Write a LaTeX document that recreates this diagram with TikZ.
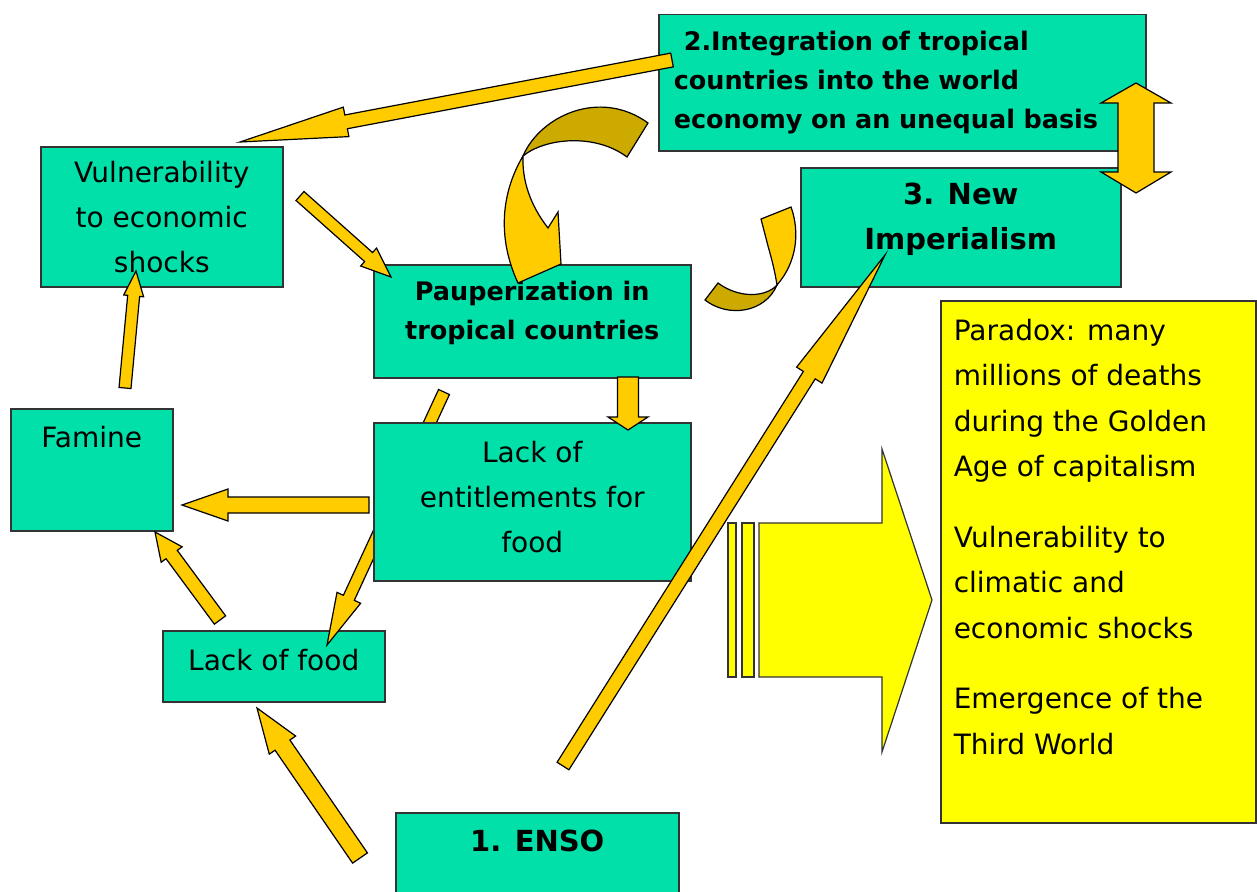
\documentclass[tikz,border=0pt]{standalone}
\usepackage{fontspec}
\setmainfont{DejaVu Sans}
\usetikzlibrary{calc}
\definecolor{boxgreen}{RGB}{0,224,168}
\definecolor{arrowgold}{RGB}{255,204,0}
\definecolor{arrowdark}{RGB}{204,170,0}
\definecolor{noteyellow}{RGB}{255,255,0}
\tikzset{
  greenbox/.style={draw=black!80, line width=1.5pt, fill=boxgreen, anchor=north west,
    align=center, inner sep=0pt, font=\fontsize{28}{45}\selectfont},
  boldbox/.style={greenbox, font=\bfseries\fontsize{25.5}{39}\selectfont},
  titlebox/.style={greenbox, font=\bfseries\fontsize{29}{45}\selectfont},
  arrowfill/.style={draw=black, line width=1.2pt, fill=arrowgold, line join=miter},
  darkfill/.style={arrowfill, fill=arrowdark},
  notefill/.style={draw=black!80, line width=1.2pt, fill=noteyellow},
}
% block arrow: [style]{from}{to}{shaft half width}{head half width}{head length}
\newcommand{\blockarrow}[6][arrowfill]{%
  \coordinate (hb) at ($(#3)!#6pt!(#2)$);
  \draw[#1] ($(#2)!#4pt!90:(#3)$) -- ($(hb)!#4pt!90:(#3)$) -- ($(hb)!#5pt!90:(#3)$) -- (#3)
    -- ($(hb)!#5pt!-90:(#3)$) -- ($(hb)!#4pt!-90:(#3)$) -- ($(#2)!#4pt!-90:(#3)$) -- cycle;
}
\begin{document}
\begin{tikzpicture}[x=1pt, y=-1pt]
  \useasboundingbox (0,0) rectangle (1257,891);
  \clip (0,0) rectangle (1257,891);
  \fill[white] (0,0) rectangle (1257,891);
  % Boxes.
  \node[boldbox, align=left, text width=457pt, inner xsep=15pt, minimum height=136pt] (integ) at (658,14)
    {\hspace*{10pt}2.Integration of tropical\\countries into the world\\economy on an unequal basis};
  \node[titlebox, minimum width=320pt, minimum height=119pt, text height=66pt, text depth=21pt] (newimp) at (800,167) {3. New\\Imperialism};
  \node[greenbox, minimum width=242pt, minimum height=140pt] (vuln) at (40,146) {Vulnerability\\to economic\\shocks};
  \node[boldbox, minimum width=317pt, minimum height=113pt, text height=58pt, text depth=22pt] (paup) at (373,264) {Pauperization in\\tropical countries};
  \node[greenbox, minimum width=162pt, text height=30pt, text depth=74pt, inner ysep=9pt] (famine) at (10,408) {Famine};
  \node[greenbox, minimum width=222pt, minimum height=71pt, text height=21pt, text depth=12pt] (lackfood) at (162,630) {Lack of food};
  \node[titlebox, minimum width=283pt, text height=30pt, text depth=60pt, inner ysep=9pt] (enso) at (395,812) {1. ENSO};
  \node[notefill, line width=1.5pt, anchor=north west, inner xsep=13pt, inner ysep=14pt] (paradox) at (940,300)
    {\parbox[c][494pt][t]{289pt}{\fontsize{28}{45.5}\selectfont\raggedright\vspace*{4pt}%
      Paradox: many\\millions of deaths\\during the Golden\\Age of capitalism\\[25pt]%
      Vulnerability to\\climatic and\\economic shocks\\[25pt]%
      Emergence of the\\Third World}};
  % Arrow ends.
  \coordinate (integ-out) at (672,60);     \coordinate (vuln-in) at (240,142);
  \coordinate (vuln-out) at (300,196);     \coordinate (paup-in) at (391,277);
  \coordinate (famine-up) at (125,388);    \coordinate (vuln-low) at (136,271);
  \coordinate (lackent-out) at (369,505);  \coordinate (famine-in) at (182,505);
  \coordinate (lackfood-out) at (220,620); \coordinate (famine-low) at (155,532);
  \coordinate (paup-low) at (444,392);     \coordinate (lackfood-in) at (327,645);
  \coordinate (paup-out) at (628,377);     \coordinate (lackent-in) at (628,430);
  \coordinate (enso-out) at (563,766);     \coordinate (newimp-in) at (885,255);
  \coordinate (enso-left) at (360,858);    \coordinate (lackfood-low) at (257,708);
  \coordinate (dbl) at (1136,138);
  % This one passes behind the entitlements box.
  \blockarrow{paup-low}{lackfood-in}{6}{13}{52}
  \node[greenbox, minimum width=317pt, minimum height=158pt, text height=111pt, text depth=10pt] (lackent) at (373,422) {Lack of\\entitlements for\\food};
  % Straight block arrows.
  \blockarrow{integ-out}{vuln-in}{7}{15}{108}
  \blockarrow{vuln-out}{paup-in}{6}{12}{30}
  \blockarrow{famine-up}{vuln-low}{6}{10}{25}
  \blockarrow{lackent-out}{famine-in}{8}{16}{46}
  \blockarrow{lackfood-out}{famine-low}{7}{13}{28}
  \blockarrow{paup-out}{lackent-in}{10.5}{20}{13}
  \blockarrow{enso-out}{newimp-in}{7}{15}{142}
  \blockarrow{enso-left}{lackfood-low}{9}{16}{45}
  % Double arrow between the two top boxes.
  \draw[arrowfill, shift={(dbl)}] (0,-55) -- (35,-35) -- (18,-35) -- (18,34) -- (35,34) -- (0,55)
    -- (-35,34) -- (-18,34) -- (-18,-35) -- (-35,-35) -- cycle;
  % Curved arrows.
  \draw[darkfill] (523,156) .. controls (540,116) and (600,88) .. (648,123) -- (627,157)
    .. controls (595,133) and (545,138) .. (523,156) -- cycle;
  \draw[arrowfill] (523,156) .. controls (500,195) and (498,240) .. (518,283) -- (561,264) -- (558,212)
    -- (548,228) .. controls (530,205) and (522,180) .. (523,156) -- cycle;
  \draw[darkfill] (777,285) .. controls (765,313) and (728,318) .. (705,300) -- (718,283)
    .. controls (738,298) and (765,298) .. (777,285) -- cycle;
  \draw[arrowfill] (777,285) .. controls (797,262) and (800,232) .. (791,207) -- (761,219) -- (768,246)
    .. controls (772,260) and (775,272) .. (777,285) -- cycle;
  % Big arrow towards the note.
  \draw[notefill] (728,523) rectangle (736,677);
  \draw[notefill] (742,523) rectangle (754,677);
  \draw[notefill] (759,523) -- (882,523) -- (882,449) -- (932,600) -- (882,752) -- (882,677) -- (759,677) -- cycle;
\end{tikzpicture}
\end{document}
